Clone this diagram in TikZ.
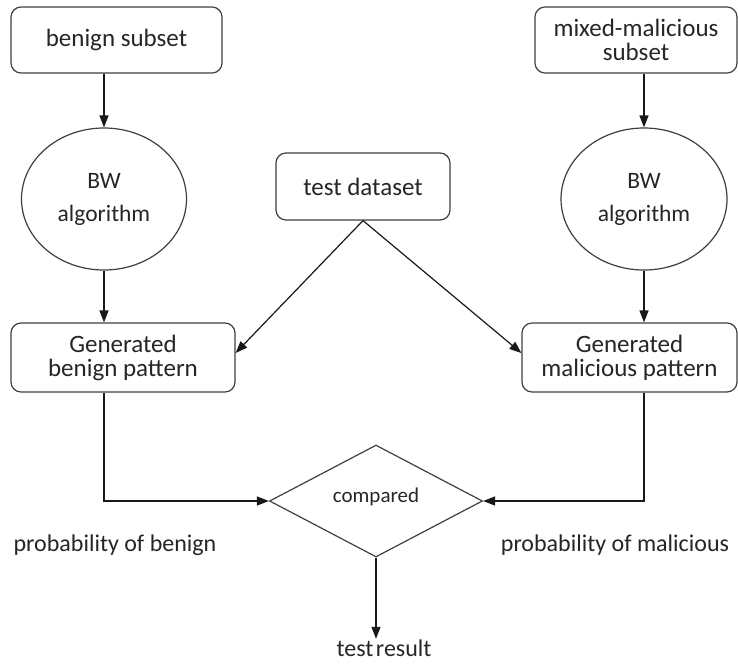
\documentclass[tikz,border=0pt]{standalone}
\usepackage{fontspec}
\setmainfont{Carlito}
\usetikzlibrary{shapes.geometric,arrows.meta}
\begin{document}
\begin{tikzpicture}[x=1pt,y=-1pt,
  line width=1.2pt,
  every node/.style={text=black!85},
  rbox/.style={draw=black!75, rounded corners=10pt, align=center, inner sep=0pt,
    font=\fontsize{25}{24}\selectfont},
  oval/.style={draw=black!75, ellipse, align=center, inner sep=0pt,
    font=\fontsize{23.5}{33}\selectfont},
  dia/.style={draw=black!75, diamond, inner sep=0pt, font=\fontsize{21}{24}\selectfont},
  lbl/.style={inner sep=0pt, font=\fontsize{24}{28}\selectfont},
  arr/.style={draw=black!90, -{Triangle[length=12pt,width=9pt]}}]
\useasboundingbox (0,0) rectangle (738,665);
\fill[white] (0,0) rectangle (738,665);

\node[rbox, minimum width=211pt, minimum height=66pt] (b1) at (116.5,40) {benign subset};
\node[rbox, minimum width=202pt, minimum height=66pt] (b2) at (636,40) {mixed-malicious\\subset};
\node[oval, minimum width=165pt, minimum height=142pt] (bw1) at (104,199) {BW\\algorithm};
\node[oval, minimum width=166pt, minimum height=142pt] (bw2) at (644,199) {BW\\algorithm};
\node[rbox, minimum width=174pt, minimum height=67pt] (td) at (363,186.5) {test dataset};
\node[rbox, minimum width=224pt, minimum height=69pt] (gb) at (123,357.5) {Generated\\benign pattern};
\node[rbox, minimum width=215pt, minimum height=69pt] (gm) at (629.5,357.5) {Generated\\malicious pattern};
\node[dia, minimum width=213pt, minimum height=112pt] (cmp) at (376,501) {\raisebox{11pt}{compared}};

\node[lbl] (pb) at (115,545) {probability of benign};
\node[lbl] (pm) at (615,545) {probability of malicious};
\node[lbl, anchor=base] (tr) at (384,656) {test\hspace{2.5pt}result};

\draw[arr] (b1.south -| bw1.north) -- (bw1.north);
\draw[arr] (bw1.south) -- (bw1.south |- gb.north);
\draw[arr] (b2.south -| bw2.north) -- (bw2.north);
\draw[arr] (bw2.south) -- (bw2.south |- gm.north);
\draw[arr] (td.south) -- ([yshift=4.5pt]gb.east);
\draw[arr] (td.south) -- ([yshift=4.5pt]gm.west);
\draw[arr] (gb.south -| bw1.south) |- (cmp.west);
\draw[arr] (gm.south -| bw2.south) |- (cmp.east);
\draw[arr] (cmp.south) -- (cmp.south |- tr.north);
\end{tikzpicture}
\end{document}
